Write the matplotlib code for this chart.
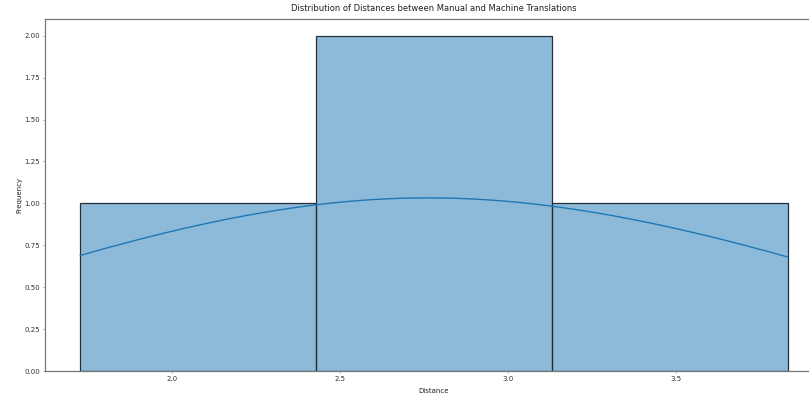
import matplotlib
matplotlib.use("Agg")
import matplotlib.pyplot as plt
import seaborn as sns
import numpy as np

# Edit distances between manual and machine translations
distances = [1.726, 2.54, 3.00, 3.831]

s = 0.5  # overall scale of text and line widths
plt.rcParams.update({
    "font.size": 10 * s,
    "axes.titlesize": 12 * s,
    "axes.labelsize": 10 * s,
    "xtick.labelsize": 10 * s,
    "ytick.labelsize": 10 * s,
    "axes.linewidth": 0.9,
    "xtick.major.size": 3.5 * s,
    "ytick.major.size": 3.5 * s,
    "xtick.major.width": 0.8 * s,
    "ytick.major.width": 0.8 * s,
    "xtick.major.pad": 2.0,
    "ytick.major.pad": 2.0,
    "axes.edgecolor": "#777777",
    "xtick.color": "#666666",
    "ytick.color": "#666666",
    "xtick.labelcolor": "#333333",
    "ytick.labelcolor": "#333333",
    "text.color": "#222222",
    "axes.labelcolor": "#222222",
})

fig = plt.figure(figsize=(8.09, 3.94), dpi=100)
ax = fig.add_axes([45 / 809, 23 / 394, (823 - 45) / 809, (371 - 19) / 394])

sns.histplot(distances, bins=3, kde=True, ax=ax, linewidth=0.9,
             edgecolor="#22303c", line_kws={"linewidth": 1.0})

ax.set_title("Distribution of Distances between Manual and Machine Translations", pad=6)
ax.set_xlabel("Distance", labelpad=4.5)
ax.set_ylabel("Frequency", labelpad=1)

fig.savefig("out.png", dpi=100)
